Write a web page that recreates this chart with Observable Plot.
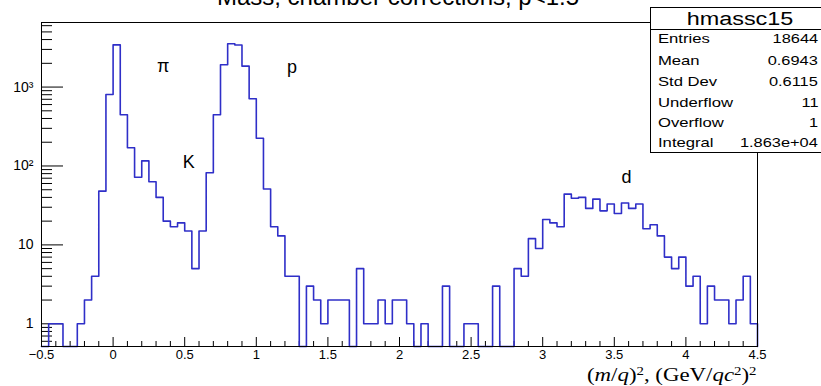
<!DOCTYPE html>
<html>
<head>
<meta charset="utf-8">
<script src="https://cdn.jsdelivr.net/npm/d3@7"></script>
<script src="https://cdn.jsdelivr.net/npm/@observablehq/plot@0.6"></script>
<style>
  body { margin: 0; background: #fff; }
  #wrap { position: relative; width: 821px; height: 386px; overflow: hidden; font-family: "Liberation Sans", Arial, sans-serif; color: #000; }
  #chart { position: absolute; left: 0; top: 0; }
  #title { position: absolute; left: 0; width: 796px; top: -15px; text-align: center; font-size: 24px; line-height: 24px; white-space: nowrap; }
  #stats { position: absolute; left: 650px; top: 7px; width: 173px; height: 146px; border: 1px solid #000; background: #fff; box-sizing: border-box; }
  #stats .head { position: absolute; left: 0; width: 178px; top: 1px; height: 20px; line-height: 20px; text-align: center; font-size: 18px; }
  #stats .head span { display: inline-block; transform: scaleX(1.3); transform-origin: center; }
  #stats .sep { position: absolute; left: 0; right: 0; top: 21px; height: 1px; background: #000; }
  #stats .row { position: absolute; left: 7px; right: 4px; height: 16px; line-height: 16px; font-size: 13px; white-space: nowrap; }
  #stats .row .k { position: absolute; left: 0; transform: scaleX(1.28); transform-origin: left center; }
  #stats .row .v { position: absolute; right: 0; transform: scaleX(1.26); transform-origin: right center; }
  #xlabel { position: absolute; right: 64px; top: 366px; font-family: "Liberation Serif", "Times New Roman", serif; font-size: 18px; line-height: 18px; white-space: nowrap; transform: scaleX(1.27); transform-origin: right center; }
  #xlabel sup { font-size: 0.65em; line-height: 0; vertical-align: 0.55em; }
</style>
</head>
<body>
<div id="wrap">
  <div id="chart"></div>
  <div id="title"></div>
  <div id="stats"></div>
  <div id="xlabel">(<i>m</i>/<i>q</i>)<sup>2</sup>, (GeV/<i>qc</i><sup>2</sup>)<sup>2</sup></div>
</div>
<script>
// ---- data: counts per bin of width 0.05 from -0.5 to 4.5 (100 bins) ----
const counts = [
  0, 1, 1, 0, 0, 1, 2, 4, 48, 805,
  3430, 446, 170, 72, 116, 63, 40, 20, 17, 19,
  15, 5, 15, 82, 446, 1920, 3540, 3420, 1840, 711,
  225, 51, 17, 13, 4, 4, 0, 3, 2, 1,
  2, 2, 2, 0, 5, 1, 1, 2, 1, 2,
  2, 1, 0, 1, 0, 0, 3, 0, 0, 1,
  1, 0, 0, 3, 0, 0, 5, 4, 12, 9,
  21, 19, 17, 44, 39, 40, 29, 38, 27, 33,
  25, 34, 29, 33, 16, 18, 13, 7, 5, 7,
  3, 4, 1, 3, 2, 2, 1, 2, 4, 1
];
const xMin = -0.5, xMax = 4.5, binWidth = 0.05;
const yFloor = 0.5157, yTop = 6580;

const xMajor = [-0.5, 0, 0.5, 1, 1.5, 2, 2.5, 3, 3.5, 4, 4.5];
const xLabels = ["\u22120.5", "0", "0.5", "1", "1.5", "2", "2.5", "3", "3.5", "4", "4.5"];
const yMajor = [1, 10, 100, 1000];
const yLabels = ["1", "10", "10\u00B2", "10\u00B3"];

const peakNames = ["\u03C0", "K", "p", "d"];
const peakX = [0.35, 0.528, 1.25, 3.586];
const peakY = [1814, 112, 1798, 73];

const titleText = "Mass, chamber corrections, p<1.5";
const statsName = "hmassc15";
const statKeys = ["Entries", "Mean", "Std Dev", "Underflow", "Overflow", "Integral"];
const statValues = ["18644", "0.6943", "0.6115", "11", "1", "1.863e+04"];

// ---- derived structures ----
const steps = [{x: xMin, y: yFloor}];
counts.forEach((c, i) => {
  const lo = xMin + i * binWidth, hi = lo + binWidth;
  const v = c > 0 ? c : yFloor;
  steps.push({x: lo, y: v}, {x: hi, y: v});
});
steps.push({x: xMax, y: yFloor});

const xMinor = d3.range(0, 51).map(i => +(xMin + i * 0.1).toFixed(2)).filter(v => !xMajor.includes(v));
const yMinor = [];
[0.1, 1, 10, 100, 1000].forEach(dec => {
  for (let k = 2; k <= 9; k++) { const v = k * dec; if (v >= yFloor && v <= yTop) yMinor.push(v); }
});
const peaks = peakNames.map((n, i) => ({name: n, x: peakX[i], y: peakY[i]}));

const W = 821, H = 386, mL = 41, mR = 64, mT = 22, mB = 40;
const plotW = W - mL - mR, plotH = H - mT - mB;

const chart = Plot.plot({
  width: W, height: H,
  marginLeft: mL, marginRight: mR, marginTop: mT, marginBottom: mB,
  x: {type: "linear", domain: [xMin, xMax]},
  y: {type: "log", domain: [yFloor, yTop]},
  style: {fontFamily: "'Liberation Sans', Arial, sans-serif", background: "transparent", color: "#000"},
  marks: [
    Plot.tickY(yMinor, {y: d => d, insetRight: plotW - 11, stroke: "#000", strokeWidth: 1}),
    Plot.tickY(yMajor, {y: d => d, insetRight: plotW - 22, stroke: "#000", strokeWidth: 1}),
    Plot.tickX(xMinor, {x: d => d, insetTop: plotH - 5, stroke: "#000", strokeWidth: 1}),
    Plot.tickX(xMajor, {x: d => d, insetTop: plotH - 9, stroke: "#000", strokeWidth: 1}),
    Plot.line(steps, {x: "x", y: "y", stroke: "#2f2fc8", strokeWidth: 1.6}),
    Plot.frame({stroke: "#000", strokeWidth: 1}),
    Plot.axisY({ticks: yMajor, tickSize: 0, tickPadding: 8, label: null, fontSize: 14,
      tickFormat: d => yLabels[yMajor.indexOf(d)]}),
    Plot.axisX({ticks: xMajor, tickSize: 0, tickPadding: 3, label: null, fontSize: 13,
      tickFormat: d => xLabels[xMajor.indexOf(d)]}),
    Plot.text(peaks, {x: "x", y: "y", text: "name", fontSize: 18, fill: "#000"})
  ]
});
document.getElementById("chart").appendChild(chart);

document.getElementById("title").textContent = titleText;

const stats = document.getElementById("stats");
const head = document.createElement("div");
head.className = "head";
head.innerHTML = "<span></span>";
head.firstChild.textContent = statsName;
stats.appendChild(head);
const sep = document.createElement("div");
sep.className = "sep";
stats.appendChild(sep);
const rowCenters = [31, 53, 74, 95, 115, 135];
statKeys.forEach((k, i) => {
  const r = document.createElement("div");
  r.className = "row";
  r.style.top = (rowCenters[i] - 8) + "px";
  const a = document.createElement("span"); a.className = "k"; a.textContent = k;
  const b = document.createElement("span"); b.className = "v"; b.textContent = statValues[i];
  r.appendChild(a); r.appendChild(b);
  stats.appendChild(r);
});
</script>
</body>
</html>
